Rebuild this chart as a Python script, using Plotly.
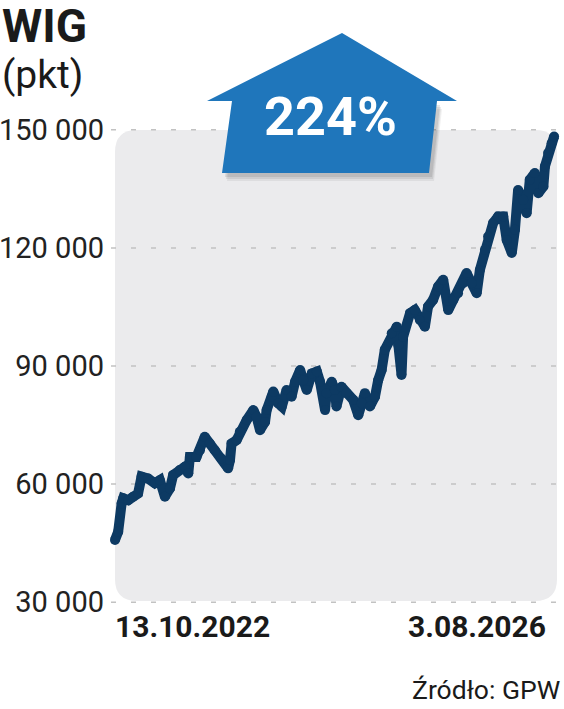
import plotly.graph_objects as go
from datetime import date

# ---------------- data ----------------
dates = [
    "2022-10-13", "2022-10-23", "2022-11-03", "2022-11-08", "2022-11-24", "2022-12-09",
    "2022-12-25", "2023-01-05", "2023-01-26", "2023-02-16", "2023-03-04", "2023-03-20",
    "2023-04-05", "2023-04-15", "2023-05-06", "2023-05-22", "2023-06-02", "2023-06-07",
    "2023-06-28", "2023-07-09", "2023-07-24", "2023-08-09", "2023-08-25", "2023-09-15",
    "2023-10-06", "2023-10-12", "2023-10-17", "2023-11-02", "2023-11-12", "2023-12-04",
    "2023-12-25", "2024-01-04", "2024-01-15", "2024-01-31", "2024-02-05", "2024-02-21",
    "2024-02-26", "2024-03-13", "2024-03-24", "2024-04-08", "2024-04-24", "2024-05-05",
    "2024-05-21", "2024-05-31", "2024-06-11", "2024-06-27", "2024-07-13", "2024-07-23",
    "2024-08-08", "2024-08-13", "2024-08-29", "2024-09-08", "2024-09-13", "2024-09-29",
    "2024-10-15", "2024-11-05", "2024-11-21", "2024-12-02", "2024-12-12", "2024-12-28",
    "2025-01-13", "2025-01-23", "2025-02-03", "2025-02-13", "2025-03-07", "2025-03-23",
    "2025-03-28", "2025-04-07", "2025-04-12", "2025-05-04", "2025-05-19", "2025-06-04",
    "2025-06-20", "2025-06-30", "2025-07-16", "2025-08-01", "2025-08-17", "2025-09-02",
    "2025-09-18", "2025-10-03", "2025-10-19", "2025-10-30", "2025-11-15", "2025-12-01",
    "2025-12-11", "2025-12-27", "2026-01-06", "2026-01-22", "2026-02-07", "2026-02-23",
    "2026-03-06", "2026-03-22", "2026-04-01", "2026-04-11", "2026-04-27", "2026-05-08",
    "2026-05-18", "2026-06-03", "2026-06-14", "2026-06-30", "2026-07-05", "2026-07-15",
    "2026-07-26", "2026-08-03",
]
wig_values = [
    45800, 47900, 55100, 56400, 55900, 56800,
    57600, 61900, 61400, 60200, 61000, 56800,
    58900, 62300, 63600, 64400, 62700, 66900,
    66900, 68600, 72000, 70300, 68600, 66500,
    64000, 66100, 70300, 71200, 73300, 76300,
    78800, 77100, 73700, 75800, 78800, 82200,
    83500, 80500, 79700, 83900, 82200, 86000,
    89000, 86400, 83900, 88100, 88600, 86000,
    78800, 83100, 86000, 83900, 79700, 84700,
    83100, 81400, 77500, 80500, 83100, 79700,
    82200, 86400, 89000, 94100, 98300, 100000,
    95300, 87700, 97400, 103400, 104200, 101700,
    100000, 105100, 106800, 110200, 111900, 104200,
    106800, 108500, 111000, 113600, 111000, 108500,
    114400, 119500, 122900, 126300, 128000, 128000,
    122000, 118700, 124600, 134700, 132200, 128800,
    137300, 139000, 133900, 135600, 140700, 144100,
    146600, 148300,
]
y_ticks = [30000, 60000, 90000, 120000, 150000]
y_tick_labels = ["30 000", "60 000", "90 000", "120 000", "150 000"]
title_text = "WIG"
unit_text = "(pkt)"
change_text = "224%"
source_text = "Źródło: GPW"

# ---------------- layout geometry ----------------
W, H = 564, 709
ML, MR, MT, MB = 109, 2, 129, 106
PW, PH = W - ML - MR, H - MT - MB
FONT = "Roboto, sans-serif"


def px(x):
    return (x - ML) / PW


def py(y):
    return (H - MB - y) / PH


def poly(points):
    s = "M " + " L ".join(f"{px(a):.5f},{py(b):.5f}" for a, b in points)
    return s + " Z"


def rounded_rect(x0, y0, x1, y1, r):
    P = lambda a, b: f"{px(a):.5f},{py(b):.5f}"
    return (
        f"M {P(x0 + r, y0)} L {P(x1 - r, y0)} Q {P(x1, y0)} {P(x1, y0 + r)} "
        f"L {P(x1, y1 - r)} Q {P(x1, y1)} {P(x1 - r, y1)} "
        f"L {P(x0 + r, y1)} Q {P(x0, y1)} {P(x0, y1 - r)} "
        f"L {P(x0, y0 + r)} Q {P(x0, y0)} {P(x0 + r, y0)} Z"
    )


arrow_pts = [(342, 33), (457, 101), (437, 101), (429, 173), (222, 173), (232, 101), (207, 101)]

fig = go.Figure()
fig.add_trace(go.Scatter(
    x=dates, y=wig_values, mode="lines+markers",
    line=dict(color="#0d3a63", width=10),
    marker=dict(color="#0d3a63", size=10, line=dict(width=0)),
    hoverinfo="skip", showlegend=False, cliponaxis=False,
))

shapes = [
    dict(type="path", xref="paper", yref="paper", layer="below",
         path=rounded_rect(115, 130, 557, 601, 22),
         fillcolor="#ebebed", line=dict(width=0)),
]
# dashed horizontal gridlines at the y ticks
for v in y_ticks:
    shapes.append(dict(type="line", xref="paper", yref="y", layer="below",
                       x0=px(111), x1=px(556), y0=v, y1=v,
                       line=dict(color="#c2c2c2", width=1.5, dash="5px,15px")))
for dx, dy, op in [(5, 8, 0.08), (4, 6, 0.10), (3, 4, 0.12)]:
    shapes.append(dict(type="path", xref="paper", yref="paper", layer="above",
                       path=poly([(a + dx, b + dy) for a, b in arrow_pts[2:6]]),
                       fillcolor=f"rgba(60,60,60,{op})", line=dict(width=0)))
shapes.append(dict(type="path", xref="paper", yref="paper", layer="above",
                   path=poly(arrow_pts), fillcolor="#1f76bb", line=dict(width=0)))

d0 = date.fromisoformat(dates[0])
d1 = date.fromisoformat(dates[-1])
fmt = lambda d: f"{d.day}.{d.month:02d}.{d.year}"

annotations = [
    dict(text=f"<b>{title_text}</b>", x=px(0), y=py(-3), xanchor="left", yanchor="top",
         font=dict(size=46, color="#1a1a1a", family=FONT)),
    dict(text=unit_text, x=px(0), y=py(50), xanchor="left", yanchor="top",
         font=dict(size=39, color="#1a1a1a", family=FONT)),
    dict(text=f"<b>{change_text}</b>", x=px(330), y=py(116), xanchor="center", yanchor="middle",
         font=dict(size=54, color="#ffffff", family=FONT)),
    dict(text=f"<b>{fmt(d0)}</b>", x=dates[0], xref="x", y=py(607), xanchor="left", yanchor="top",
         xshift=-2, font=dict(size=30, color="#1a1a1a", family=FONT)),
    dict(text=f"<b>{fmt(d1)}</b>", x=dates[-1], xref="x", y=py(607), xanchor="right", yanchor="top",
         xshift=-6, font=dict(size=30, color="#1a1a1a", family=FONT)),
    dict(text=source_text, x=px(562), y=py(672), xanchor="right", yanchor="top",
         font=dict(size=26.5, color="#1a1a1a", family=FONT)),
]
for a in annotations:
    a.setdefault("xref", "paper")
    a.setdefault("yref", "paper")
    a["showarrow"] = False

# x range: 2022-09-24 sits at pixel 109, 2026-08-03 at pixel 554 (~3.17 days per pixel)
fig.update_layout(
    width=W, height=H, autosize=False,
    margin=dict(l=ML, r=MR, t=MT, b=MB, pad=0),
    paper_bgcolor="#ffffff", plot_bgcolor="rgba(0,0,0,0)",
    font=dict(family=FONT, color="#1a1a1a"),
    shapes=shapes, annotations=annotations, showlegend=False,
    xaxis=dict(type="date", range=["2022-09-24", "2026-08-28"], automargin=False,
               showgrid=False, zeroline=False, showline=False, showticklabels=False, ticks=""),
    yaxis=dict(range=[29800, 150200], tickvals=y_ticks, ticktext=y_tick_labels, automargin=False,
               showgrid=False, zeroline=False, showline=False, ticks="", ticklabelstandoff=4,
               tickfont=dict(size=29, color="#222222", family=FONT)),
)

# remove the browser's default 8px body margin so the figure fills the window exactly
fig.write_html("out.html", config={"displayModeBar": False, "staticPlot": True},
               post_script="document.body.style.margin='0px';")
